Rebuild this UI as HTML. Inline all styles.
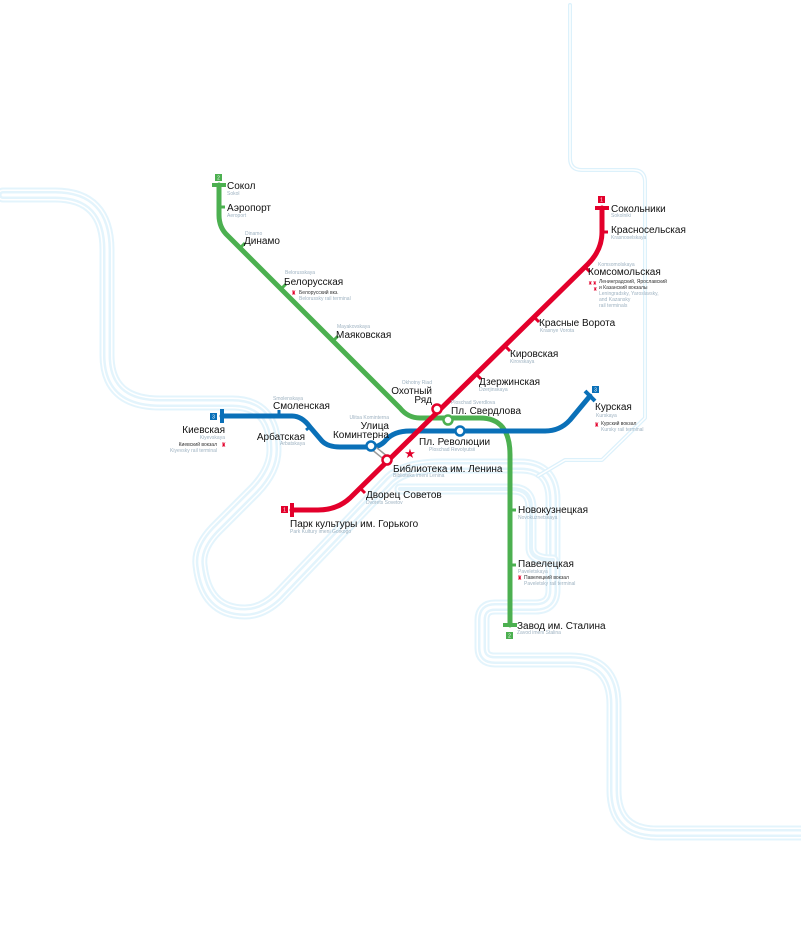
<!DOCTYPE html>
<html><head><meta charset="utf-8"><style>
html,body{margin:0;padding:0;background:#fff;width:801px;height:937px;overflow:hidden}
svg{display:block}
text{font-family:"Liberation Sans","DejaVu Sans",sans-serif}
.n{font-size:10px;fill:#111}
.s{font-size:5px;fill:#9fb3c2}
.r{font-size:5px;fill:#333}
</style></head><body>
<svg width="801" height="937" viewBox="0 0 801 937" xmlns="http://www.w3.org/2000/svg">
<g fill="none" stroke-linejoin="round" stroke-linecap="round">
 <g id="river">
  <path id="rv" d="M3,195 H55 Q107,195 107,250 V355 Q107,403 160,403 H232 Q274,403 274,450 Q274,470 255,490 L215,530 Q198,548 200,565 Q205,612 245,612 Q262,612 278,597 L390,480 Q405,466 440,466 H520 Q553,466 553,500 V590 Q553,607 535,607 H495 Q482,607 482,620 V648 Q482,660 495,660 H570 Q614,660 614,705 V790 Q614,833 657,833 H800"/>
  <path id="cn" d="M400,489 H512 Q531,489 531,508 V548 Q531,560 553,560"/>
 </g>
 <use href="#rv" stroke="#e3f4fc" stroke-width="15"/>
 <use href="#rv" stroke="#fff" stroke-width="11"/>
 <use href="#rv" stroke="#e3f4fc" stroke-width="8"/>
 <use href="#rv" stroke="#fff" stroke-width="3"/>
 <use href="#cn" stroke="#e3f4fc" stroke-width="11"/>
 <use href="#cn" stroke="#fff" stroke-width="7"/>
 <use href="#cn" stroke="#e3f4fc" stroke-width="4"/>
 <path d="M570,5 V158 Q570,170 582,170 H633 Q645,170 645,182 V418 L602,460 H565 L538,476" stroke="#dcf1fb" stroke-width="4"/>
 <path d="M570,5 V158 Q570,170 582,170 H633 Q645,170 645,182 V418 L602,460 H565 L538,476" stroke="#fff" stroke-width="1.5"/>

 <!-- green line -->
 <path d="M219,185 V215 Q219,228 228,236 L400,408 Q408,418 420,418 H480 Q510,418 510,455 V625" stroke="#4cb050" stroke-width="5"/>
 <path d="M212,185 H226 M503,625 H517" stroke="#4cb050" stroke-width="4" stroke-linecap="butt"/>
 <path d="M219,207 H225 M240,248 L245,243 M281,289 L286,284 M333,341 L338,336 M510,510 H516 M510,565 H516" stroke="#4cb050" stroke-width="3" stroke-linecap="butt"/>
 <!-- blue line -->
 <path d="M222,416 H292 Q302,416 310,427 L322,441 Q328,447 340,447 H372 Q380,447 386,440 Q394,431 410,431 H545 Q560,431 570,420 L590,396" stroke="#0a70b8" stroke-width="5"/>
 <path d="M222,409 V423 M585,391 L595,401" stroke="#0a70b8" stroke-width="4" stroke-linecap="butt"/>
 <path d="M279,416 V410 M306,430 L311,426" stroke="#0a70b8" stroke-width="3" stroke-linecap="butt"/>
 <!-- red line -->
 <path d="M602,208 V232 Q602,250 588,264 L350,498 Q337,510 318,510 H292" stroke="#e3002b" stroke-width="5"/>
 <path d="M595,208 H609 M292,503 V517" stroke="#e3002b" stroke-width="4" stroke-linecap="butt"/>
 <path d="M602,232 H608 M585,267 L590,272 M534,317 L539,322 M505,346 L510,351 M476,374 L481,379 M360,488 L365,493" stroke="#e3002b" stroke-width="3" stroke-linecap="butt"/>
 <path d="M371,446 L387,459" stroke="#999" stroke-width="6"/>
 <path d="M371,446 L387,459" stroke="#fff" stroke-width="3"/>
 <circle cx="371" cy="446" r="4.5" fill="#fff" stroke="#0a70b8" stroke-width="2.5"/>
 <circle cx="387" cy="460" r="4.5" fill="#fff" stroke="#e3002b" stroke-width="2.5"/>
 <circle cx="437" cy="409" r="4.5" fill="#fff" stroke="#e3002b" stroke-width="2.5"/>
 <circle cx="448" cy="420" r="4.5" fill="#fff" stroke="#4cb050" stroke-width="2.5"/>
 <circle cx="460" cy="431" r="4.5" fill="#fff" stroke="#0a70b8" stroke-width="2.5"/>
</g>
<text x="410" y="458" font-size="13" fill="#e3002b" text-anchor="middle" style="font-family:'DejaVu Sans'">★</text>
<g font-size="5" fill="#fff" text-anchor="middle">
<rect x="215" y="174" width="7" height="7" fill="#4cb050"/><text x="218.5" y="179.5">2</text>
<rect x="598" y="196" width="7" height="7" fill="#e3002b"/><text x="601.5" y="201.5">1</text>
<rect x="592" y="386" width="7" height="7" fill="#0a70b8"/><text x="595.5" y="391.5">3</text>
<rect x="210" y="413" width="7" height="7" fill="#0a70b8"/><text x="213.5" y="418.5">3</text>
<rect x="281" y="506" width="7" height="7" fill="#e3002b"/><text x="284.5" y="511.5">1</text>
<rect x="506" y="632" width="7" height="7" fill="#4cb050"/><text x="509.5" y="637.5">2</text>
</g>
<text class="n" x="227" y="189">Сокол</text><text class="s" x="227" y="195">Sokol</text>
<text class="n" x="227" y="211">Аэропорт</text><text class="s" x="227" y="217">Aeroport</text>
<text class="s" x="245" y="235">Dinamo</text><text class="n" x="244" y="244">Динамо</text>
<text class="s" x="285" y="274">Belorusskaya</text><text class="n" x="284" y="285">Белорусская</text>
<text x="291" y="295" font-size="6" fill="#e3002b">♜</text><text class="r" x="299" y="294">Белорусский вкз.</text><text class="s" x="299" y="300">Belorussky rail  terminal</text>
<text class="s" x="337" y="328">Mayakovskaya</text><text class="n" x="336" y="338">Маяковская</text>
<text class="s" x="432" y="384" text-anchor="end">Okhotny Riad</text>
<text class="n" x="432" y="394" text-anchor="end">Охотный</text><text class="n" x="432" y="403" text-anchor="end">Ряд</text>
<text class="s" x="451" y="404">Ploschad Sverdlova</text><text class="n" x="451" y="414">Пл. Свердлова</text>
<text class="n" x="479" y="385">Дзержинская</text><text class="s" x="479" y="391">Dzerjinskaya</text>
<text class="n" x="510" y="357">Кировская</text><text class="s" x="510" y="363">Kirovskaya</text>
<text class="n" x="539" y="326">Красные Ворота</text><text class="s" x="540" y="332">Krasnye Vorota</text>
<text class="s" x="598" y="266">Komsomolskaya</text><text class="n" x="588" y="275">Комсомольская</text>
<text x="588" y="285" font-size="5" fill="#e3002b">♜♜</text><text x="593" y="291" font-size="5" fill="#e3002b">♜</text>
<text class="r" x="599" y="283">Ленинградский, Ярославский</text><text class="r" x="599" y="289">и Казанский вокзалы</text>
<text class="s" x="599" y="295">Leningradsky, Yaroslavsky,</text><text class="s" x="599" y="301">and Kazansky</text><text class="s" x="599" y="307">rail terminals</text>
<text class="n" x="611" y="212">Сокольники</text><text class="s" x="611" y="217">Sokolniki</text>
<text class="n" x="611" y="233">Красносельская</text><text class="s" x="611" y="239">Krasnoselskaya</text>
<text class="n" x="595" y="410">Курская</text><text class="s" x="596" y="417">Kurskaya</text>
<text x="594" y="427" font-size="6" fill="#e3002b">♜</text><text class="r" x="601" y="425">Курский вокзал</text><text class="s" x="601" y="431">Kursky rail terminal</text>
<text class="n" x="419" y="445">Пл. Революции</text><text class="s" x="429" y="451">Ploschad Revolyutsii</text>
<text class="n" x="393" y="472">Библиотека им. Ленина</text><text class="s" x="393" y="477">Biblioteka imeni Lenina</text>
<text class="n" x="366" y="498">Дворец Советов</text><text class="s" x="366" y="504">Dvorets Sovetov</text>
<text class="n" x="290" y="527">Парк культуры им. Горького</text><text class="s" x="290" y="533">Park Kultury imeni Gorkogo</text>
<text class="s" x="389" y="419" text-anchor="end">Ulitsa Kominterna</text>
<text class="n" x="389" y="429" text-anchor="end">Улица</text><text class="n" x="389" y="438" text-anchor="end">Коминтерна</text>
<text class="s" x="273" y="400">Smolenskaya</text><text class="n" x="273" y="409">Смоленская</text>
<text class="n" x="305" y="440" text-anchor="end">Арбатская</text><text class="s" x="305" y="445" text-anchor="end">Arbatskaya</text>
<text class="n" x="225" y="433" text-anchor="end">Киевская</text><text class="s" x="225" y="439" text-anchor="end">Kiyevskaya</text>
<text class="r" x="217" y="446" text-anchor="end">Киевский вокзал</text><text x="221" y="447" font-size="6" fill="#e3002b">♜</text>
<text class="s" x="217" y="452" text-anchor="end">Kiyevsky rail terminal</text>
<text class="n" x="518" y="513">Новокузнецкая</text><text class="s" x="518" y="519">Novokuznetskaya</text>
<text class="n" x="518" y="567">Павелецкая</text><text class="s" x="518" y="573">Paveletskaya</text>
<text x="517" y="580" font-size="6" fill="#e3002b">♜</text><text class="r" x="524" y="579">Павелецкий вокзал</text><text class="s" x="524" y="585">Paveletsky rail terminal</text>
<text class="n" x="517" y="629">Завод им. Сталина</text><text class="s" x="517" y="634">Zavod imeni Stalina</text>
</svg>
</body></html>
